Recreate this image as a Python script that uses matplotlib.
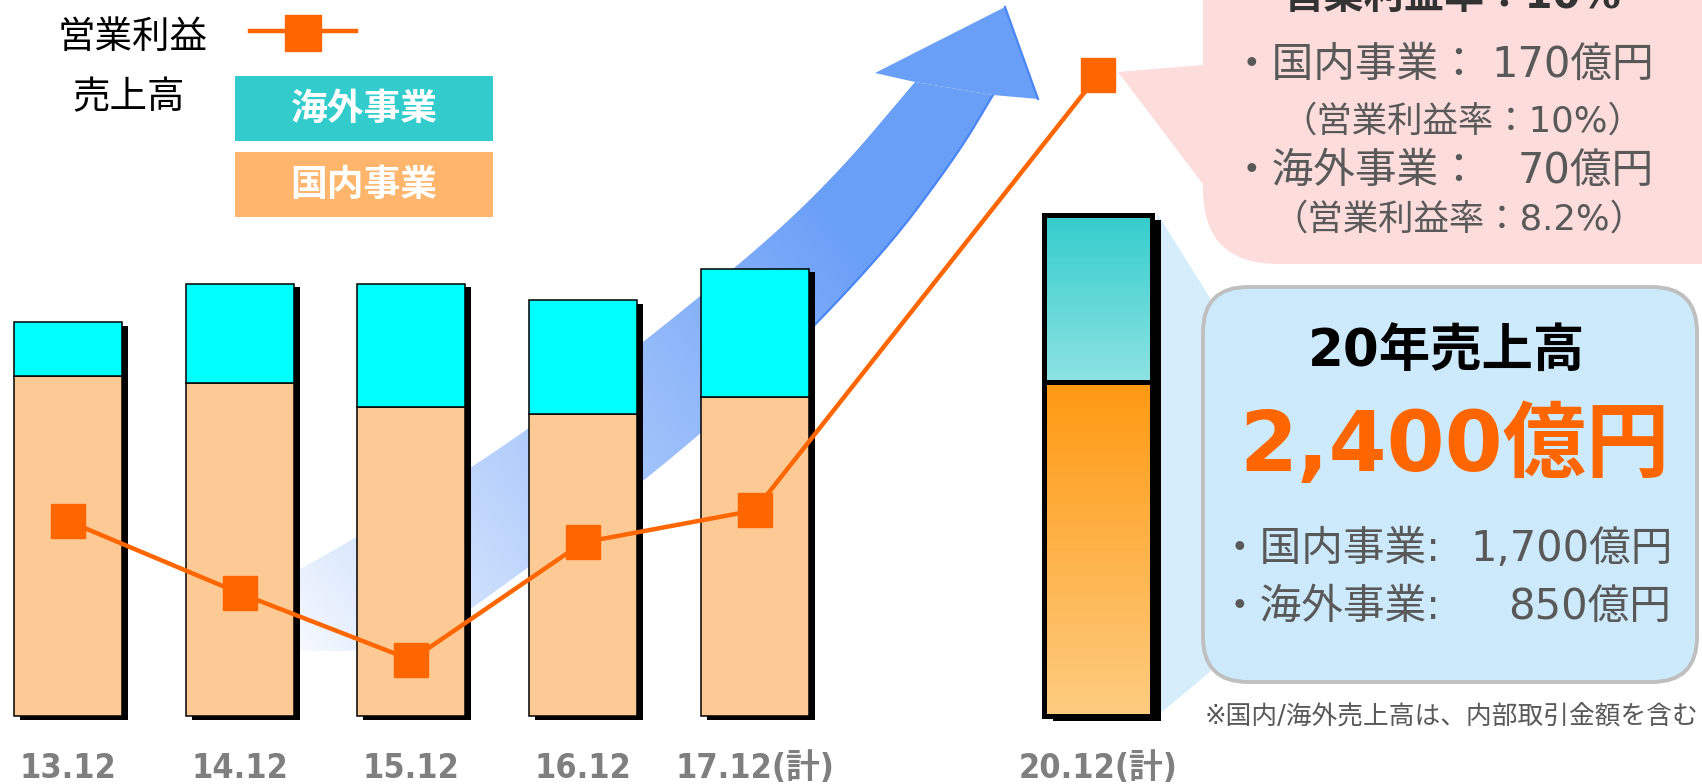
import numpy as np
import matplotlib
matplotlib.use('Agg')
import matplotlib.pyplot as plt
from matplotlib.patches import FancyBboxPatch, Polygon, Rectangle
from matplotlib.transforms import ScaledTranslation, blended_transform_factory

# DejaVu for latin / digits (wide, like the original), Noto for the kana & kanji
plt.rcParams['font.family'] = ['DejaVu Sans', 'Noto Sans CJK JP']

# values (億円); 20.12 is the plan
periods = ['13.12', '14.12', '15.12', '16.12', '17.12(計)', '20.12(計)']
slots = [0, 1, 2, 3, 4, 6]          # 18.12 / 19.12 are left out
domestic = [1730, 1695, 1570, 1535, 1625, 1700]
overseas = [275, 505, 630, 580, 650, 850]
op_profit = [73, 46, 21, 65, 77, 240]

W, H = 1702, 784
X0, STEP = 68, 171.67      # px of slot 0, px per slot
BASE = 716                 # px row of the bar bottoms
SALES_PX = 0.1965          # px per 億円 of sales
PROFIT_PX = 2.67           # px per 億円 of profit
BAR_W = 0.63

GRAY = '#595959'
ORANGE = '#ff6600'

fig = plt.figure(figsize=(W / 100, H / 100), dpi=100)


def pixel_axes(z):
    a = fig.add_axes([0, 0, 1, 1], zorder=z)
    a.set_xlim(0, W)
    a.set_ylim(H, 0)
    a.axis('off')
    return a


def chaikin(pts, n=4):
    pts = np.asarray(pts, float)
    for _ in range(n):
        q = 0.75 * pts[:-1] + 0.25 * pts[1:]
        r = 0.25 * pts[:-1] + 0.75 * pts[1:]
        mid = np.empty((2 * len(q), 2))
        mid[0::2], mid[1::2] = q, r
        pts = np.vstack([pts[:1], mid, pts[-1:]])
    return pts


bg = pixel_axes(0)

# big blue growth arrow behind the bars
upper = chaikin([(250, 596), (357, 538), (529, 432), (738, 267), (832, 180), (915, 82)])
lower = chaikin([(993, 95), (956, 157), (873, 267), (700, 440), (471, 610), (407, 651)])
outline = np.vstack([upper, lower, [(250, 651)]])
shaft = Polygon(outline, closed=True, fc='none', ec='none')
bg.add_patch(shaft)
gx, gy = np.meshgrid(np.linspace(240, 1000, 400), np.linspace(0, 660, 340))
u = np.clip(((gx - 290) * 0.8 + (650 - gy) * 0.6) / 700, 0, 1) ** 0.85
c0 = np.array([250, 252, 255]) / 255
c1 = np.array([106, 159, 247]) / 255
img = c0 + (c1 - c0) * u[..., None]
im = bg.imshow(img, extent=(240, 1000, 660, 0), origin='upper', aspect='auto', zorder=1)
im.set_clip_path(shaft)
edge = lower[lower[:, 0] > 760]
bg.plot(edge[:, 0], edge[:, 1], color='#4a86f5', lw=1.6, zorder=2)
head = Polygon([(915, 82), (875, 73), (1005, 7), (1038, 99), (993, 95)], closed=True,
               fc='#6a9ff7', ec='none', zorder=2)
bg.add_patch(head)
bg.plot([1005, 1038], [7, 99], color='#4a86f5', lw=1.6, zorder=2)

# light blue wedge linking the 20.12 bar to its call-out
bg.add_patch(Polygon([(1157, 213), (1210, 298), (1210, 672), (1157, 716)], closed=True,
                     fc='#d6edfc', ec='none', zorder=1))

ax = fig.add_axes([0, 0, 1, 1], zorder=1)
ax.axis('off')
ax2 = ax.twinx()
ax2.axis('off')

totals = [d + o for d, o in zip(domestic, overseas)]
dom_colors = ['#fdca96'] * 5 + ['#ff9911']
ovs_colors = ['#00ffff'] * 5 + ['#33cccc']
edge_w = [1.1] * 5 + [3.6]

shadow_small = ax.transData + ScaledTranslation(6 / 100, -3.5 / 100, fig.dpi_scale_trans)
shadow_big = ax.transData + ScaledTranslation(9 / 100, -5 / 100, fig.dpi_scale_trans)
ax.bar(slots[:5], totals[:5], BAR_W, color='black', transform=shadow_small, zorder=1)
ax.bar(slots[5:], totals[5:], BAR_W, color='black', transform=shadow_big, zorder=1)

bars_dom = ax.bar(slots, domestic, BAR_W, color=dom_colors, edgecolor='black',
                  linewidth=edge_w, zorder=2)
bars_ovs = ax.bar(slots, overseas, BAR_W, bottom=domestic, color=ovs_colors,
                  edgecolor='black', linewidth=edge_w, zorder=2)

# gradient fill for the plan bar
for rect, top, bottom in [(bars_ovs[-1], (51, 204, 204), (142, 227, 227)),
                          (bars_dom[-1], (255, 153, 17), (253, 204, 128))]:
    t = np.linspace(0, 1, 256)[:, None, None]
    grad = (np.array(top) + (np.array(bottom) - np.array(top)) * t) / 255
    x0, y0 = rect.get_x(), rect.get_y()
    g = ax.imshow(grad, extent=(x0, x0 + rect.get_width(), y0, y0 + rect.get_height()),
                  origin='upper', aspect='auto', zorder=2.1)
    g.set_clip_path(rect)
    rect.set_facecolor('none')
    rect.set_zorder(2.2)

ax.set_xlim(-X0 / STEP, (W - X0) / STEP)
ax.set_ylim(-(H - BASE) / SALES_PX, BASE / SALES_PX)

ax2.plot(slots, op_profit, color=ORANGE, lw=3.2, marker='s', ms=24, zorder=3)
ax2.set_ylim(-(H - BASE) / PROFIT_PX, BASE / PROFIT_PX)

lab_trans = blended_transform_factory(ax.transData, bg.transData)
for s, p in zip(slots, periods):
    ax.text(s, 778, p, transform=lab_trans, ha='center', va='baseline', fontsize=24.5,
            fontweight='bold', color='#7f7f7f', fontstretch='condensed')

fg = pixel_axes(3)

# legend
fg.text(133, 38, '営業利益', ha='center', va='center', fontsize=27, color='black')
fg.plot([250, 356], [31, 31], color=ORANGE, lw=3.2)
fg.plot([303], [33], color=ORANGE, marker='s', ms=25.5, ls='none')
fg.text(129, 98, '売上高', ha='center', va='center', fontsize=27, color='black')
fg.add_patch(Rectangle((235, 76), 258, 65, fc='#33cccc', ec='none'))
fg.add_patch(Rectangle((235, 152), 258, 65, fc='#ffb56b', ec='none'))
fg.text(364, 109, '海外事業', ha='center', va='center', fontsize=26.5, fontweight='bold', color='white')
fg.text(364, 185, '国内事業', ha='center', va='center', fontsize=26.5, fontweight='bold', color='white')

# pink call-out for operating profit
pink = '#fddcdc'
fg.add_patch(FancyBboxPatch((1203, -120), 620, 384, boxstyle='round,pad=0,rounding_size=75',
                            fc=pink, ec='none'))
fg.add_patch(Polygon([(1118, 72), (1215, 64), (1215, 200)], closed=True, fc=pink, ec='none'))
fg.text(1453, 8, '営業利益率：10%', ha='center', va='baseline', fontsize=29,
        fontweight='bold', color='#333333')
fg.text(1231, 65, '・国内事業：', ha='left', va='center', fontsize=30, color=GRAY)
fg.text(1654, 65, '170億円', ha='right', va='center', fontsize=30, color=GRAY)
fg.text(1462, 122, '（営業利益率：10%）', ha='center', va='center', fontsize=25.5, color=GRAY)
fg.text(1231, 171, '・海外事業：', ha='left', va='center', fontsize=30, color=GRAY)
fg.text(1654, 171, '70億円', ha='right', va='center', fontsize=30, color=GRAY)
fg.text(1459, 220, '（営業利益率：8.2%）', ha='center', va='center', fontsize=25.5, color=GRAY)

# blue call-out for 2020 sales
fg.add_patch(FancyBboxPatch((1203, 287), 494, 395, boxstyle='round,pad=0,rounding_size=45',
                            fc='#cdeafc', ec='#bfbfbf', lw=2.8))
fg.text(1446, 352, '20年売上高', ha='center', va='center', fontsize=37, fontweight='bold', color='black')
fg.text(1455, 447, '2,400億円', ha='center', va='center', fontsize=60, fontweight='bold', color=ORANGE)
fg.text(1219, 549, '・国内事業:', ha='left', va='center', fontsize=30, color=GRAY)
fg.text(1673, 549, '1,700億円', ha='right', va='center', fontsize=30, color=GRAY)
fg.text(1219, 607, '・海外事業:', ha='left', va='center', fontsize=30, color=GRAY)
fg.text(1671, 607, '850億円', ha='right', va='center', fontsize=30, color=GRAY)

fg.text(1698, 717, '※国内/海外売上高は、内部取引金額を含む', ha='right', va='center',
        fontsize=18.5, color=GRAY)

fig.savefig('out.png', dpi=100)
